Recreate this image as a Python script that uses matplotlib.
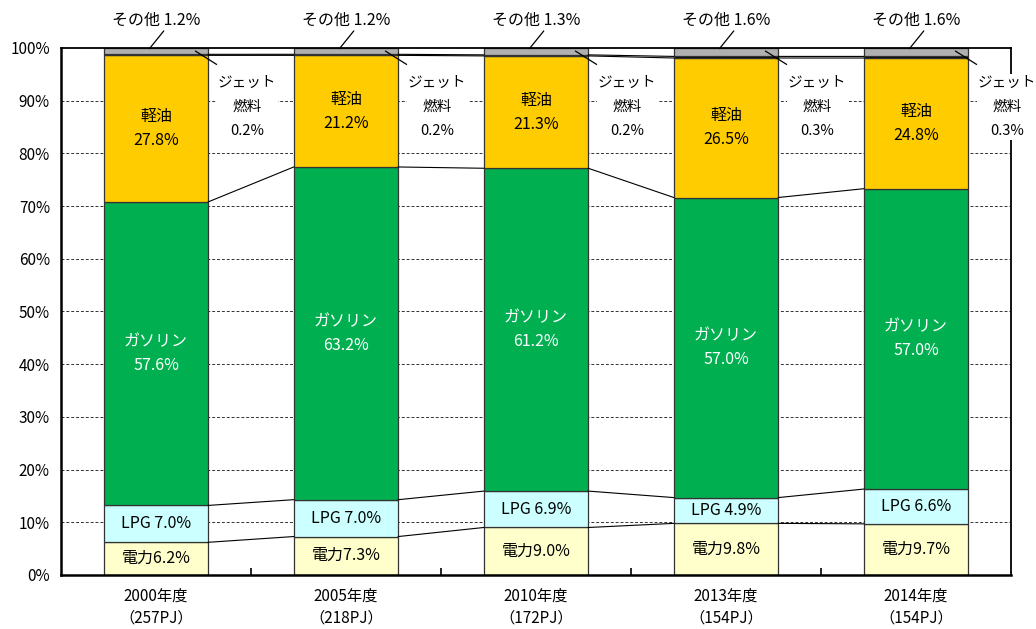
import numpy as np
import matplotlib
matplotlib.use('Agg')
import matplotlib.pyplot as plt

plt.rcParams['font.family'] = ['Noto Sans CJK JP', 'DejaVu Sans']

years = ['2000年度', '2005年度', '2010年度', '2013年度', '2014年度']
totals = ['（257PJ）', '（218PJ）', '（172PJ）', '（154PJ）', '（154PJ）']

denryoku = [6.2, 7.3, 9.0, 9.8, 9.7]
lpg = [7.0, 7.0, 6.9, 4.9, 6.6]
gasoline = [57.6, 63.2, 61.2, 57.0, 57.0]
keiyu = [27.8, 21.2, 21.3, 26.5, 24.8]
jet = [0.2, 0.2, 0.2, 0.3, 0.3]
sonota = [1.2, 1.2, 1.3, 1.6, 1.6]

series = [denryoku, lpg, gasoline, keiyu, jet, sonota]
colors = ['#FFFFCC', '#CCFFFF', '#00B050', '#FFCC00', '#000000', '#B0B0B0']

def main():
    data = np.array(series, dtype=float)
    data = data / data.sum(axis=0) * 100
    x = np.arange(len(years))
    w = 0.55

    fig = plt.figure(figsize=(10.36, 6.29), dpi=100)
    ax = fig.add_axes([0.0589, 0.0859, 0.9170, 0.8378])

    for yv in range(10, 100, 10):
        ax.axhline(yv, color='#333333', lw=0.7, ls=(0, (3, 2)), zorder=0)

    bottom = np.zeros(len(years))
    for vals, c in zip(data, colors):
        ax.bar(x, vals, w, bottom=bottom, color=c, edgecolor='#333333', lw=0.9, zorder=2)
        bottom = bottom + vals

    # series lines between bars
    tops = np.cumsum(data, axis=0)
    for k in range(5):
        for i in range(len(years) - 1):
            ax.plot([x[i] + w / 2, x[i + 1] - w / 2], [tops[k, i], tops[k, i + 1]],
                    color='black', lw=0.8, zorder=3)

    fs = 11.5
    ls = 1.55
    for i in range(len(years)):
        ax.text(x[i], data[0, i] / 2, '電力%.1f%%' % denryoku[i], ha='center', va='center', fontsize=fs, zorder=4)
        b = data[0, i]
        ax.text(x[i], b + data[1, i] / 2, 'LPG %.1f%%' % lpg[i], ha='center', va='center', fontsize=fs, zorder=4)
        b += data[1, i]
        ax.text(x[i], b + data[2, i] / 2, 'ガソリン\n%.1f%%' % gasoline[i], ha='center', va='center',
                fontsize=fs, color='white', linespacing=ls, zorder=4)
        b += data[2, i]
        ax.text(x[i], b + data[3, i] / 2, '軽油\n%.1f%%' % keiyu[i], ha='center', va='center',
                fontsize=fs, linespacing=ls, zorder=4)
        # その他
        ax.plot([x[i] - 0.034, x[i] + 0.04], [99.9, 103.2], color='black', lw=0.9, clip_on=False, zorder=4)
        ax.text(x[i], 105.2, 'その他 %.1f%%' % sonota[i], ha='center', va='center', fontsize=fs, clip_on=False)
        # ジェット燃料
        ax.plot([x[i] + 0.208, x[i] + 0.318], [99.4, 96.9], color='black', lw=0.9, clip_on=False, zorder=4)
        ax.text(x[i] + 0.48, 88.8, 'ジェット\n燃料\n%.1f%%' % jet[i], ha='center', va='center', fontsize=10.5,
                linespacing=1.95, clip_on=False, zorder=5,
                bbox=dict(facecolor='white', edgecolor='none', pad=1))

    ax.set_xlim(-0.5, 4.5)
    ax.set_ylim(0, 100)
    ax.set_yticks(range(0, 101, 10))
    ax.set_yticklabels(['%d%%' % v for v in range(0, 101, 10)], fontsize=11)
    ax.tick_params(axis='y', length=0, pad=8)
    ax.set_xticks(x)
    ax.set_xticklabels([a + '\n' + b for a, b in zip(years, totals)], fontsize=11, linespacing=1.4)
    ax.tick_params(axis='x', which='major', length=0, pad=9)
    ax.set_xticks(x[:-1] + 0.5, minor=True)
    ax.tick_params(axis='x', which='minor', direction='in', length=5, width=1.2)

    for s in ['left', 'bottom']:
        ax.spines[s].set_linewidth(1.8)
    for s in ['top', 'right']:
        ax.spines[s].set_linewidth(1.3)

    fig.savefig('out.png', dpi=100)


if __name__ == '__main__':
    main()
